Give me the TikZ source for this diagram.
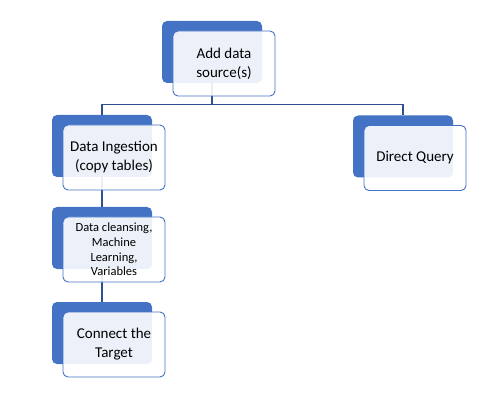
\documentclass[tikz,border=0pt]{standalone}
\usepackage{fontspec}
\setmainfont{Carlito}
\definecolor{boxblue}{RGB}{68,114,196}
\definecolor{lineblue}{RGB}{47,82,143}
\begin{document}
\begin{tikzpicture}[x=1pt,y=1pt,
    backbox/.style={fill=boxblue,rounded corners=5pt,minimum width=100pt,minimum height=62pt,inner sep=0pt},
    frontbox/.style={draw=boxblue,line width=0.9pt,fill=white,fill opacity=0.9,text opacity=1,rounded corners=5pt,
        minimum width=102pt,minimum height=65pt,inner sep=0pt,align=center,font=\fontsize{15}{19}\selectfont},
    link/.style={draw=lineblue,line width=1.2pt}]
            \useasboundingbox (0,0) rectangle (503,402);
            \node[backbox] (src) at (212,350) {};

            \node[backbox] (ingest) at (102,256) {};
            \node[backbox] (direct) at (403,255.5) {};
            \node[backbox] (clean) at (102,164) {};
            \node[backbox] (target) at (102,69) {};

            \draw[link] (src.south) -- ++(0,-21) -| (ingest.north) (src.south) ++(0,-21) -| (direct.north);
            \draw[link] (ingest.south) -- (clean.north) (clean.south) -- (target.north);

            \node[frontbox] (srcf) at (224,338.5) {Add data\\source(s)};
            \node[frontbox] (ingestf) at (114,244.5) {Data Ingestion\\(copy tables)};
            \node[frontbox] (directf) at (415,244) {Direct Query};
            \node[frontbox,font=\fontsize{12.5}{14.7}\selectfont] (cleanf) at (114,152.5) {Data cleansing,\\Machine\\Learning,\\Variables};
            \node[frontbox] (targetf) at (114,57.5) {Connect the\\Target};
        \end{tikzpicture}
\end{document}
